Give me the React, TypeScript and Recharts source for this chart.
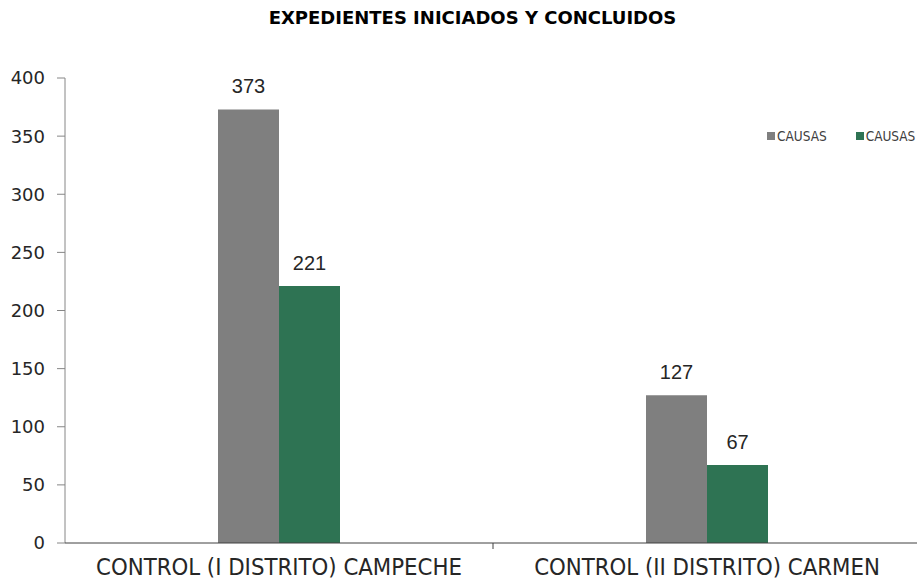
import { BarChart, Bar, XAxis, YAxis, LabelList } from "recharts";

const categories = ["CONTROL (I DISTRITO) CAMPECHE", "CONTROL (II DISTRITO) CARMEN"];
const iniciadas = [373, 127];
const concluidas = [221, 67];
const yTicks = [0, 50, 100, 150, 200, 250, 300, 350, 400];
const seriesNames = ["CAUSAS", "CAUSAS"];

const data = categories.map((name, i) => ({
  name,
  iniciadas: iniciadas[i],
  concluidas: concluidas[i],
}));

const GRAY = "#7f7f7f";
const GREEN = "#2e7353";
const FONT = "'DejaVu Sans', sans-serif";
const FONT_C = "'DejaVu Sans Condensed', 'DejaVu Sans', sans-serif";
const LABEL_FONT = "'Liberation Sans', Arial, sans-serif";

const CHART_W = 930;
const MARGIN = { top: 78, right: 9, left: 0, bottom: 0 };
const Y_W = 65;
const BAND = (CHART_W - MARGIN.right - MARGIN.left - Y_W) / categories.length;

const CategoryTick = (props: any) => {
  const { x, y, payload } = props;
  return (
    <g>
      <line x1={x + BAND / 2} x2={x + BAND / 2} y1={y - 8} y2={y - 2} stroke="#404040" />
      <text x={x} y={y + 24} textAnchor="middle" fontSize={23.7} fill="#262626" fontFamily={FONT_C}>
        {payload.value}
      </text>
    </g>
  );
};

// legend sits partly outside the visible area, as in the original
const LegendBox = () => (
  <div
    style={{
      position: "absolute",
      top: 128,
      left: 767,
      display: "flex",
      fontFamily: FONT_C,
      fontSize: 13.5,
      color: "#404040",
      whiteSpace: "nowrap",
    }}
  >
    {[GRAY, GREEN].map((c, i) => (
      <span key={i} style={{ display: "flex", alignItems: "center", marginRight: 29 }}>
        <span style={{ width: 8, height: 8, background: c, display: "inline-block", marginRight: 2 }} />
        {seriesNames[i]}
      </span>
    ))}
  </div>
);

export default function App() {
  return (
    <div style={{ position: "absolute", left: 0, top: 0, width: 917, height: 586, overflow: "hidden", background: "#fff" }}>
      <div
        style={{
          position: "absolute",
          top: 7,
          left: 14,
          width: 917,
          textAlign: "center",
          fontFamily: FONT,
          fontWeight: "bold",
          fontSize: 18,
          color: "#000",
        }}
      >
        EXPEDIENTES INICIADOS Y CONCLUIDOS
      </div>
      <BarChart width={CHART_W} height={586} data={data} margin={MARGIN} barGap={0} barSize={61}>
        <YAxis
          width={Y_W}
          domain={[0, 400]}
          ticks={yTicks}
          interval={0}
          axisLine={{ stroke: "#868686" }}
          tickLine={{ stroke: "#868686" }}
          tickSize={8}
          tickMargin={12}
          tick={{ fontSize: 18, fill: "#262626", fontFamily: FONT }}
        />
        <XAxis
          dataKey="name"
          height={43}
          axisLine={{ stroke: "#404040" }}
          tickLine={false}
          tick={<CategoryTick />}
          interval={0}
        />
        <Bar dataKey="iniciadas" fill={GRAY} isAnimationActive={false}>
          <LabelList dataKey="iniciadas" position="top" offset={16} fontSize={20} fill="#262626" fontFamily={LABEL_FONT} />
        </Bar>
        <Bar dataKey="concluidas" fill={GREEN} isAnimationActive={false}>
          <LabelList dataKey="concluidas" position="top" offset={16} fontSize={20} fill="#262626" fontFamily={LABEL_FONT} />
        </Bar>
      </BarChart>
      <LegendBox />
    </div>
  );
}
